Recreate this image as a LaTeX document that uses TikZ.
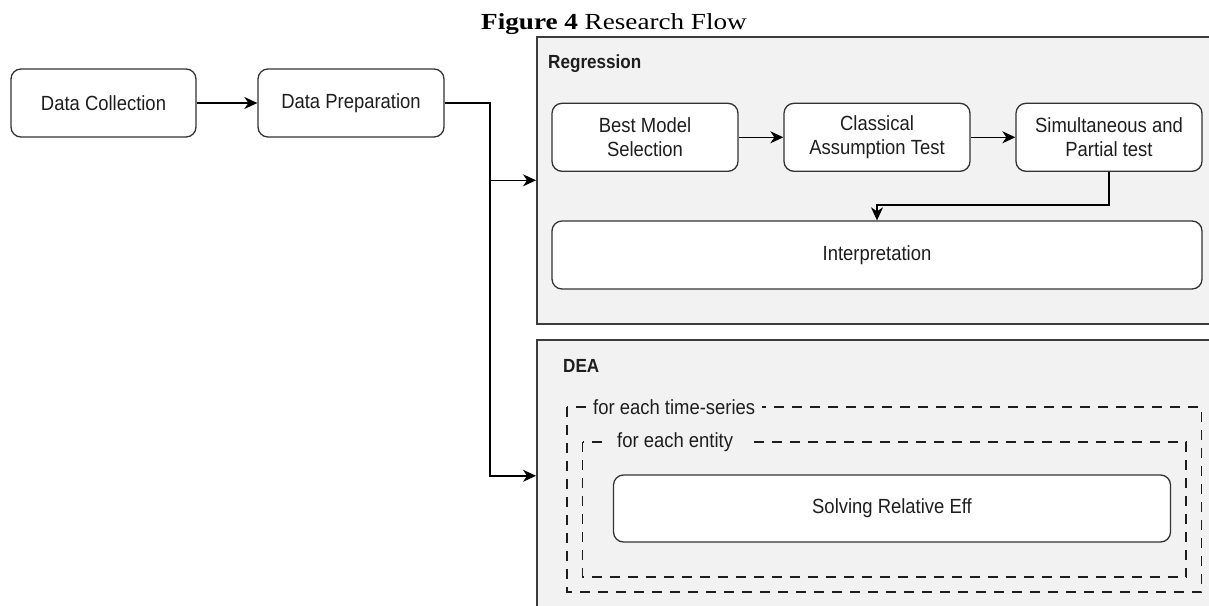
\documentclass[tikz,border=0pt]{standalone}
\usepackage{fontspec}
\setmainfont{Liberation Sans}[FakeStretch=0.9]
\newfontfamily\titlefont{Liberation Serif}[FakeStretch=1.18]
\usetikzlibrary{arrows.meta}
\definecolor{bggray}{HTML}{F2F2F2}
\definecolor{framec}{HTML}{3C3C3C}
\definecolor{boxc}{HTML}{333333}
\definecolor{txtc}{HTML}{1E1E1E}
\begin{document}
\begin{tikzpicture}[x=1pt,y=-1pt,
  proc/.style={draw=boxc, line width=1.3pt, fill=white, rounded corners=10pt,
    font=\fontsize{20.5}{24}\selectfont, text=txtc, align=center, inner sep=0pt},
  container/.style={draw=framec, line width=1.6pt, fill=bggray, inner sep=0pt},
  grouplbl/.style={font=\bfseries\fontsize{19}{22}\selectfont, text=txtc, inner sep=0pt},
  loopframe/.style={draw=txtc, line width=1.5pt, dash pattern=on 10pt off 8pt},
  looplbl/.style={font=\fontsize{20.5}{24}\selectfont, text=txtc, fill=bggray, inner ysep=2pt, inner xsep=7pt},
  arr/.style={draw=black, line width=1.4pt, -{Stealth[length=13pt,width=12pt,inset=4pt]}}
]
\useasboundingbox (0,0) rectangle (1209,605);
\clip (0,0) rectangle (1209,605);
\fill[white] (0,0) rectangle (1209,605);

% title
\node[anchor=base, inner sep=0pt, font=\titlefont\fontsize{23}{26}\selectfont] (title) at (614,29) {\textbf{Figure 4} Research Flow};

% containers
\node[container, minimum width=680pt, minimum height=287pt, anchor=north west] (reg) at (536,36) {};
\node[container, minimum width=680pt, minimum height=272pt, anchor=north west] (dea) at (536,339) {};
\node[grouplbl, anchor=base west] (reglbl) at (548,68) {Regression};
\node[grouplbl, anchor=base west] (dealbl) at (563,372.5) {DEA};

% left chain
\node[proc, minimum width=185pt, minimum height=68pt] (dc) at (103.5,103) {Data Collection};
\node[proc, minimum width=186pt, minimum height=68pt] (dp) at (351,103) {Data Preparation};

% regression boxes
\node[proc, minimum width=186pt, minimum height=68pt] (bms) at (645,137.3) {Best Model\\Selection};
\node[proc, minimum width=186pt, minimum height=68pt] (cat) at (877,137.3) {Classical\\Assumption Test};
\node[proc, minimum width=186pt, minimum height=68pt] (spt) at (1109,137.3) {Simultaneous and\\Partial test};
\node[proc, minimum width=650pt, minimum height=68pt] (interp) at (877,255) {Interpretation};

% DEA loops
\draw[loopframe] (567,407) rectangle (1201.5,592);
\draw[loopframe] (582.5,442) rectangle (1186,577);
\node[looplbl, anchor=west] (tslbl) at (586,407) {for each time-series};
\node[looplbl, anchor=west, inner xsep=8pt] (entlbl) at (609,442) {for each entity\hspace*{12pt}};
\node[proc, minimum width=557pt, minimum height=67pt] (solv) at (892,508.5) {Solving Relative Eff};

% connectors
\coordinate (j) at (490,103);
\draw[arr] (dc.east) -- (dp.west);
\draw[arr] (dp.east) -- (j) |- (reg.west);
\draw[arr] (j) |- (dea.west);
\draw[arr] (bms.east) -- (cat.west);
\draw[arr] (cat.east) -- (spt.west);
\draw[arr] (spt.south) -- ++(0,33) -| (interp.north);
\end{tikzpicture}
\end{document}
